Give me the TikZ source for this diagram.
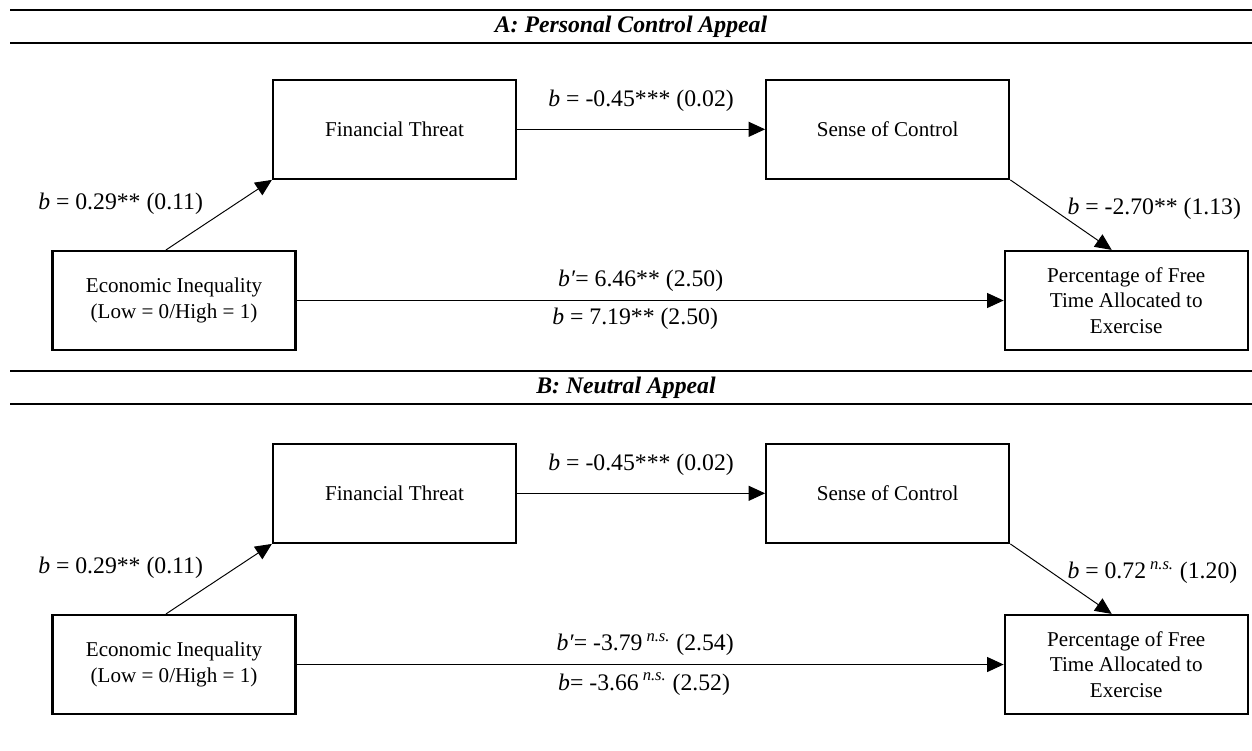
\documentclass[tikz,border=0pt]{standalone}
\usepackage{fontspec}
\setmainfont{Liberation Serif}
\usetikzlibrary{arrows.meta,positioning}

\tikzset{
  box/.style={draw, line width=1.25pt, minimum width=4.86cm, minimum height=1.98cm,
    align=center, inner sep=0pt, font=\fontsize{12}{14.6}\selectfont},
  arr/.style={line width=0.55pt, -{Triangle[length=0.33cm,width=0.3cm]}},
  lbl/.style={inner sep=0pt, font=\fontsize{13.5}{16}\selectfont},
  rule/.style={line width=1.1pt},
  ttl/.style={font=\fontsize{13.5}{16}\selectfont\bfseries\itshape}
}
\newcommand{\ns}{\,\textsuperscript{\textit{n.s.}}}

\begin{document}
\begin{tikzpicture}
\useasboundingbox (0,0) rectangle (25.04,-15);

% panel A
\draw[rule] (0.2,-0.2) -- (25.04,-0.2);
\draw[rule] (0.2,-0.86) -- (25.04,-0.86);
\node[ttl] (ttlA) at (12.62,-0.53) {A: Personal Control Appeal};

\node[box] (eiA) at (3.48,-6.01) {Economic Inequality\\(Low = 0/High = 1)};
\node[box, above=1.4cm of eiA, xshift=4.41cm] (ftA) {Financial Threat};
\node[box, right=4.96cm of ftA] (scA) {Sense of Control};
\node[box, right=14.14cm of eiA] (outA) {Percentage of Free\\Time Allocated to\\Exercise};

\draw[arr] ([xshift=-0.16cm]eiA.north) -- node[lbl, anchor=east, xshift=-0.31cm, yshift=0.22cm] {\textit{b} = 0.29** (0.11)} (ftA.south west);
\draw[arr] (ftA) -- node[lbl, above=0.34cm] {\textit{b} = -0.45*** (0.02)} (scA);
\draw[arr] (scA.south east) -- node[lbl, anchor=west, xshift=0.12cm, yshift=0.12cm] {\textit{b} = -2.70** (1.13)} ([xshift=-0.29cm]outA.north);
\draw[arr] (eiA) -- node[lbl, above=0.16cm, xshift=-0.19cm] {\textit{b′}= 6.46** (2.50)}
  node[lbl, below=0.14cm, xshift=-0.3cm] {\textit{b} = 7.19** (2.50)} (outA);

% panel B
\draw[rule] (0.2,-7.42) -- (25.04,-7.42);
\draw[rule] (0.2,-8.08) -- (25.04,-8.08);
\node[ttl] (ttlB) at (12.52,-7.75) {B: Neutral Appeal};

\node[box] (eiB) at (3.48,-13.29) {Economic Inequality\\(Low = 0/High = 1)};
\node[box, above=1.4cm of eiB, xshift=4.41cm] (ftB) {Financial Threat};
\node[box, right=4.96cm of ftB] (scB) {Sense of Control};
\node[box, right=14.14cm of eiB] (outB) {Percentage of Free\\Time Allocated to\\Exercise};

\draw[arr] ([xshift=-0.16cm]eiB.north) -- node[lbl, anchor=east, xshift=-0.31cm, yshift=0.22cm] {\textit{b} = 0.29** (0.11)} (ftB.south west);
\draw[arr] (ftB) -- node[lbl, above=0.34cm] {\textit{b} = -0.45*** (0.02)} (scB);
\draw[arr] (scB.south east) -- node[lbl, anchor=west, xshift=0.12cm, yshift=0.12cm] {\textit{b} = 0.72\ns{} (1.20)} ([xshift=-0.29cm]outB.north);
\draw[arr] (eiB) -- node[lbl, above=0.16cm, xshift=-0.1cm] {\textit{b′}= -3.79\ns{} (2.54)}
  node[lbl, below=0.16cm, xshift=-0.12cm] {\textit{b}= -3.66\ns{} (2.52)} (outB);

\end{tikzpicture}
\end{document}
